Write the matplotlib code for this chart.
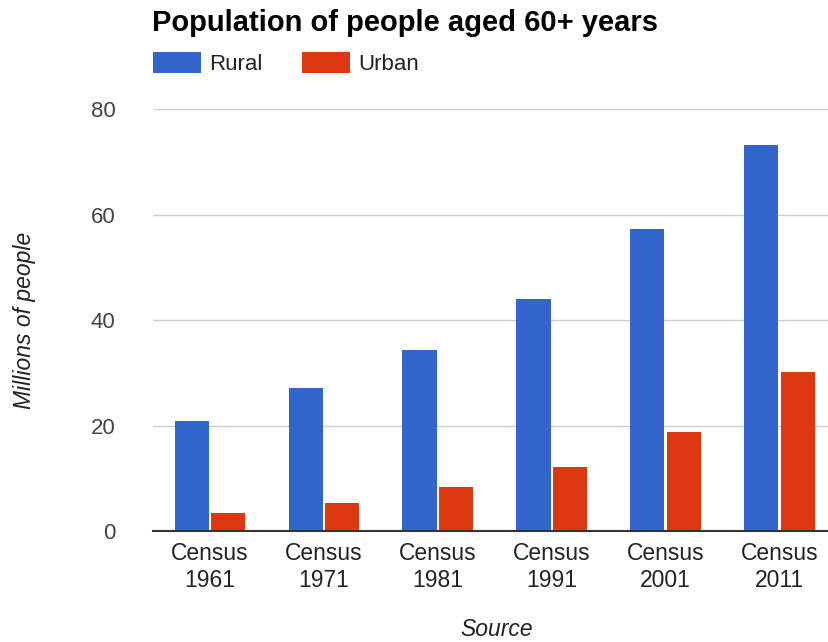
import matplotlib
matplotlib.use("Agg")
import matplotlib.pyplot as plt
import numpy as np

categories = ["Census\n1961", "Census\n1971", "Census\n1981", "Census\n1991", "Census\n2001", "Census\n2011"]
rural = [20.9, 27.1, 34.4, 44.1, 57.3, 73.2]
urban = [3.5, 5.3, 8.4, 12.2, 18.8, 30.2]
yticks = [0, 20, 40, 60, 80]

plt.rcParams['font.family'] = ['Liberation Sans', 'DejaVu Sans']

W, H = 829, 642
fig = plt.figure(figsize=(W / 100, H / 100), dpi=100)
left, right = 153 / W, 1.0
bottom, top = 1 - 531 / H, 1 - 109.3 / H
ax = fig.add_axes([left, bottom, right - left, top - bottom])

x = np.arange(len(categories))
bw = 0.30
off = 0.16
blue = "#3366CC"
red = "#DC3912"
ax.bar(x - off, rural, width=bw, color=blue, label="Rural", zorder=3)
ax.bar(x + off, urban, width=bw, color=red, label="Urban", zorder=3)

ax.set_xlim(-0.5, 5.435)
ax.set_ylim(0, 80)
ax.set_yticks(yticks)
ax.set_yticklabels([str(v) for v in yticks], fontsize=16, color="#444444")
ax.set_xticks(x)
ax.set_xticklabels(categories, fontsize=16.5, color="#222222", linespacing=1.2)
ax.tick_params(axis='both', length=0)
ax.tick_params(axis='y', pad=27)
ax.tick_params(axis='x', pad=8)
ax.yaxis.grid(True, color="#cccccc", linewidth=1.0, zorder=0)
for s in ["top", "right", "left"]:
    ax.spines[s].set_visible(False)
ax.spines["bottom"].set_color("#333333")
ax.spines["bottom"].set_linewidth(1.5)
ax.spines["bottom"].set_zorder(4)

fig.text(25 / W, 1 - 320 / H, "Millions of people", rotation=90, fontsize=16.5,
         style="italic", color="#222222", ha="center", va="center")
fig.text(497 / W, 1 - 630 / H, "Source", fontsize=16.5, style="italic",
         color="#222222", ha="center", va="center")
fig.text(152 / W, 1 - 23 / H, "Population of people aged 60+ years", fontsize=21,
         fontweight="bold", color="#000000", ha="left", va="center")

leg = fig.legend(loc="upper left", bbox_to_anchor=(153 / W, 1 - 52 / H), ncol=2,
                 frameon=False, fontsize=16, handlelength=2.16, handleheight=1.08,
                 handletextpad=0.36, columnspacing=1.8, borderpad=0, borderaxespad=0)
for t in leg.get_texts():
    t.set_color("#222222")

fig.savefig("out.png", dpi=100)
